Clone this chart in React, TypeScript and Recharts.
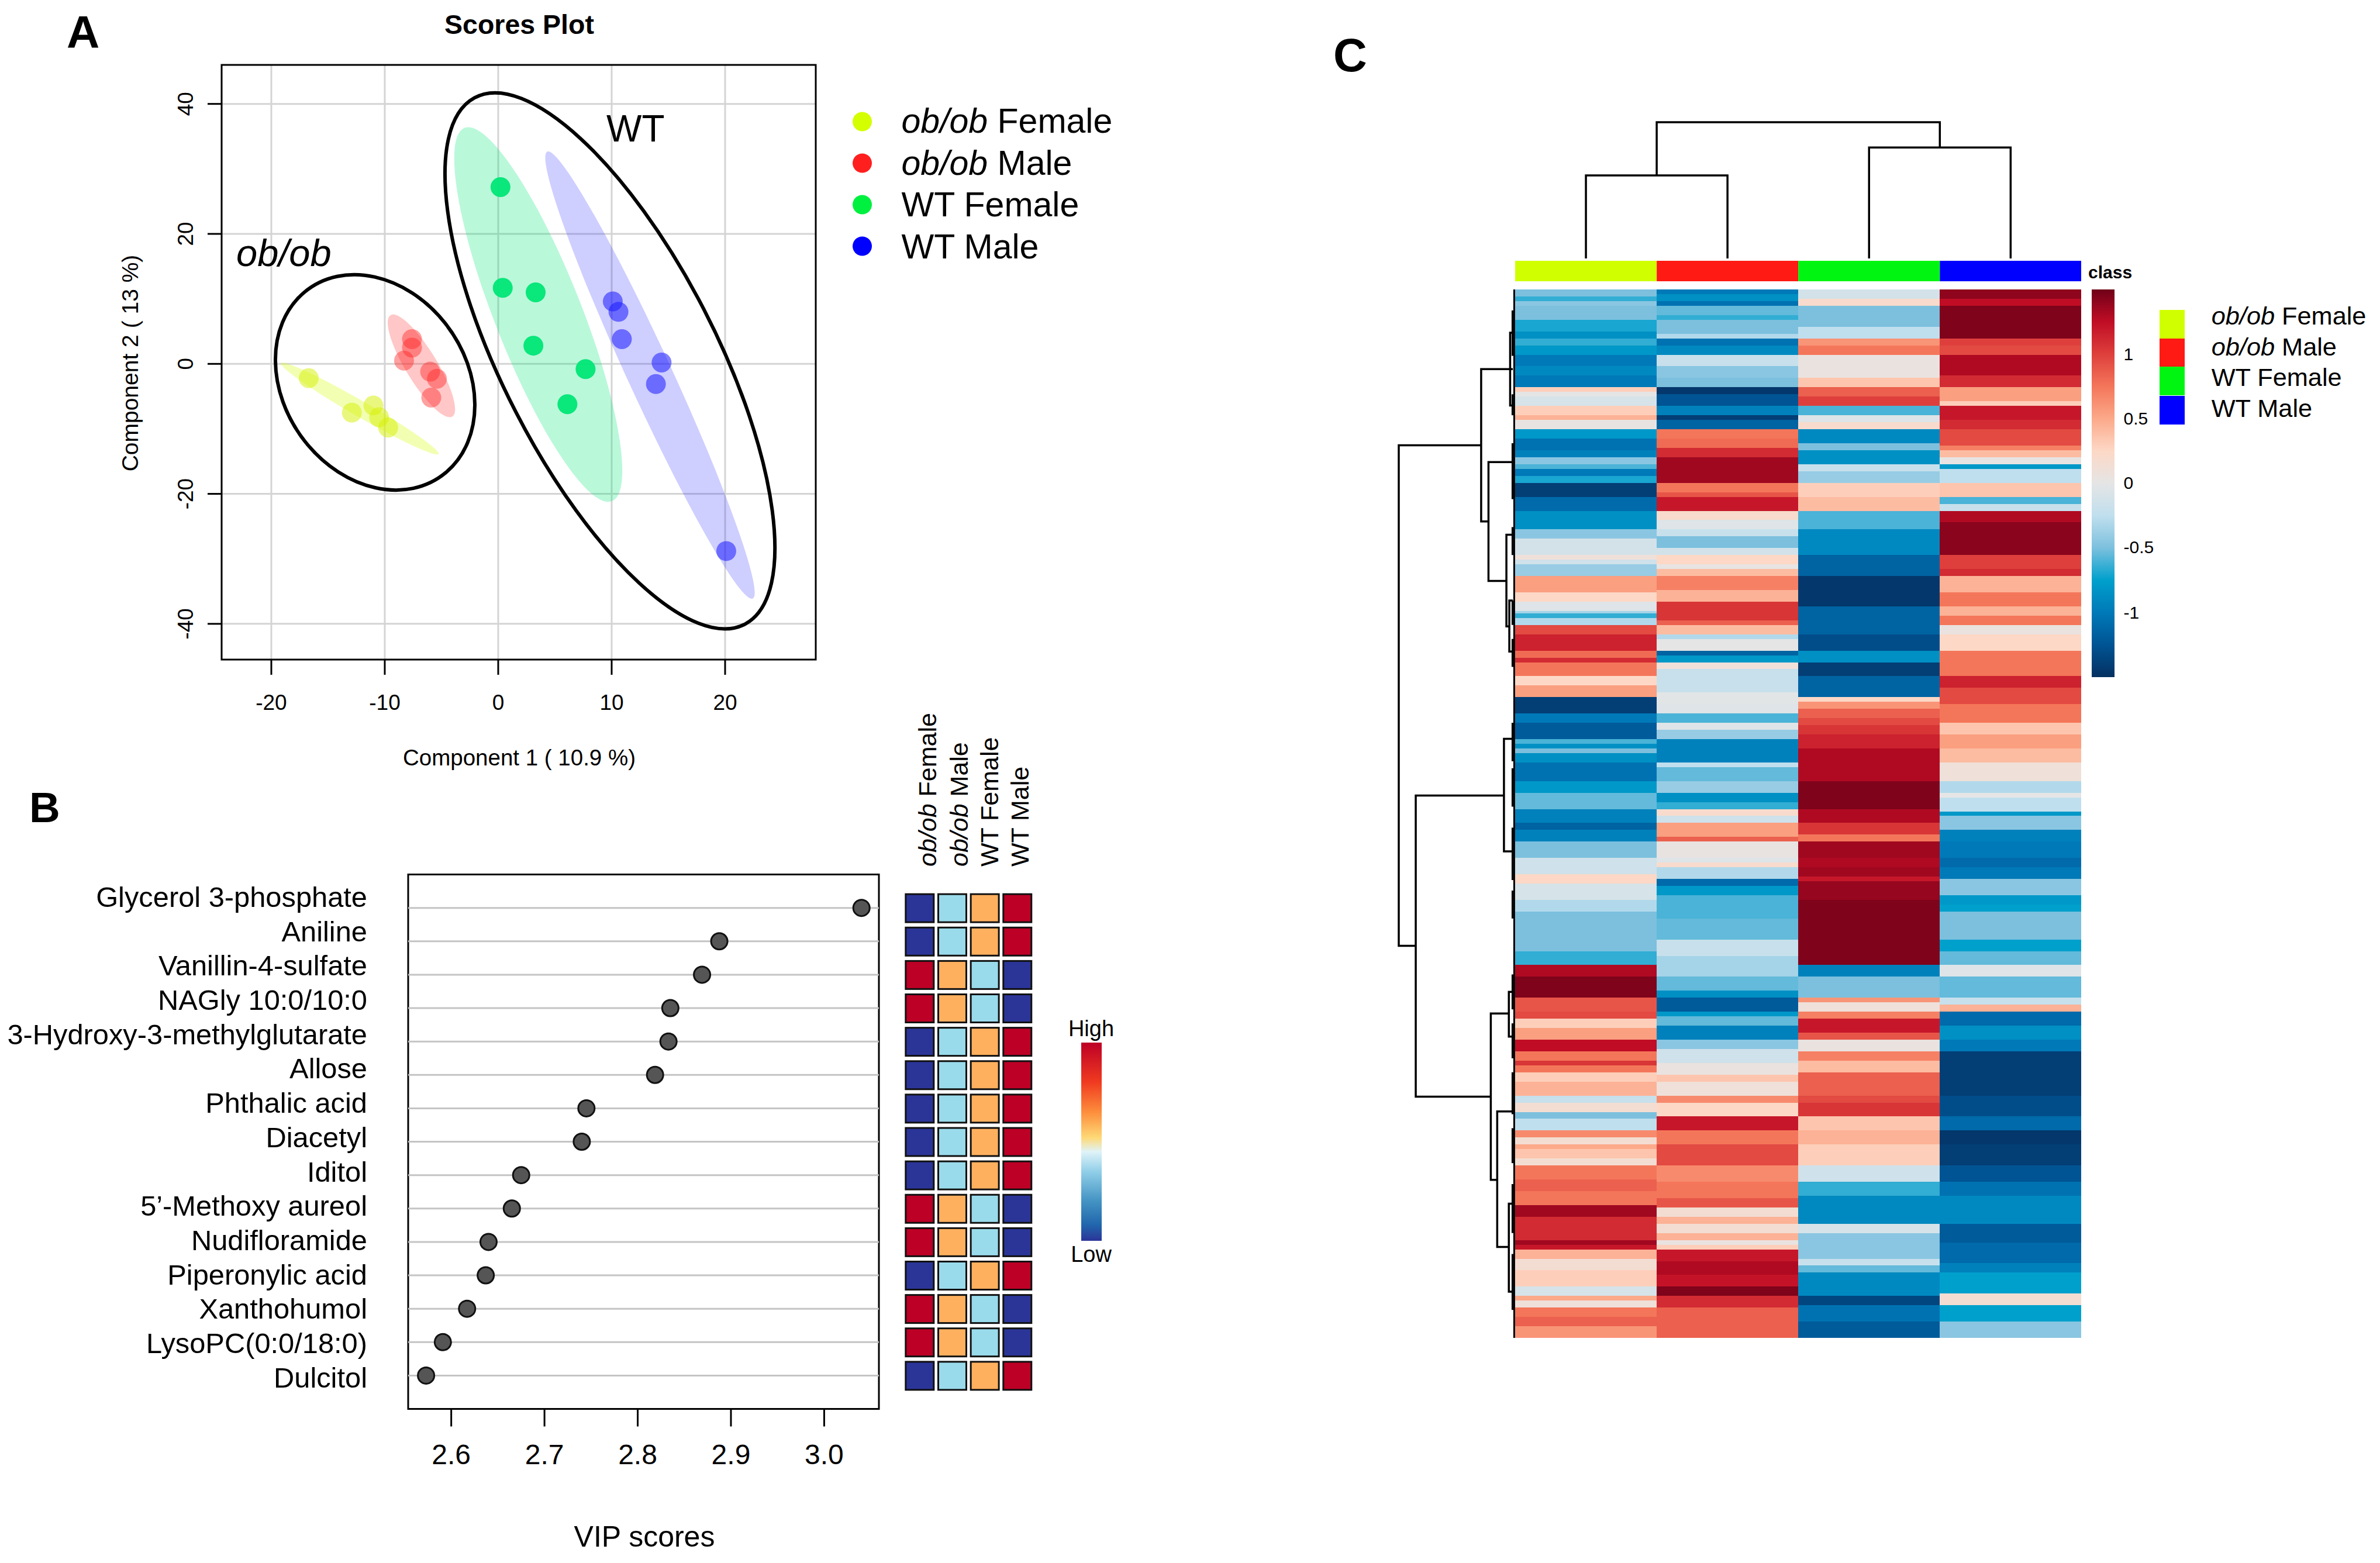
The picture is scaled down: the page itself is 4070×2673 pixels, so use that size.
import { BarChart, Bar, Cell, ScatterChart, Scatter, XAxis, YAxis, CartesianGrid, ReferenceArea, ReferenceLine } from "recharts";

const FONT = "'Liberation Sans', Arial, sans-serif";

// ---- panel A: scores plot ----
const groupNames = ["ob/ob Female", "ob/ob Male", "WT Female", "WT Male"];
const obFemaleScores = [{ x: -16.7, y: -2.2 }, { x: -12.9, y: -7.5 }, { x: -11, y: -6.4 }, { x: -10.5, y: -8.2 }, { x: -9.7, y: -9.8 }];
const obMaleScores = [{ x: -7.6, y: 3.8 }, { x: -7.6, y: 2.5 }, { x: -8.3, y: 0.5 }, { x: -6, y: -1.2 }, { x: -5.4, y: -2.3 }, { x: -5.9, y: -5.2 }];
const wtFemaleScores = [{ x: 0.2, y: 27.2 }, { x: 0.4, y: 11.7 }, { x: 3.3, y: 11 }, { x: 3.1, y: 2.8 }, { x: 7.7, y: -0.8 }, { x: 6.1, y: -6.2 }];
const wtMaleScores = [{ x: 10.1, y: 9.6 }, { x: 10.6, y: 8 }, { x: 10.9, y: 3.8 }, { x: 14.4, y: 0.2 }, { x: 13.9, y: -3.1 }, { x: 20.1, y: -28.8 }];
// centre and two conjugate tips, in data units
const ellipses = [
  { x: -12.2, y: -6.88, ux: -5.26, uy: -13.86, vx: -11.87, vy: -5.81, fill: "#d4ff00", opacity: 0.3 },
  { x: -6.77, y: -0.31, ux: -4.04, uy: -8.1, vx: -5.61, vy: 1.02, fill: "#ff2020", opacity: 0.25 },
  { x: 3.53, y: 7.6, ux: 10.04, uy: -21.1, vx: 7.06, vy: 10.2, fill: "#00e676", opacity: 0.27 },
  { x: 13.38, y: -1.73, ux: 22.44, uy: -36.1, vx: 15.14, vy: -0.22, fill: "#2020ff", opacity: 0.22 },
  { x: -10.85, y: -2.85, ux: -4.6, uy: -16.7, vx: -4.67, vy: 6.24, fill: "none", opacity: 1 },
  { x: 9.85, y: 0.46, ux: 21.8, uy: -40, vx: 18.13, vy: 8.38, fill: "none", opacity: 1 },
];
const scoreTicksX = [-20, -10, 0, 10, 20];
const scoreTicksY = [-40, -20, 0, 20, 40];
const X_DOM: [number, number] = [-24.38, 27.99];
const Y_DOM: [number, number] = [-45.5, 46];
const PX_X = (1395 - 379) / (X_DOM[1] - X_DOM[0]);
const PX_Y = (1128 - 111) / (Y_DOM[1] - Y_DOM[0]);

// ---- panel B: VIP scores ----
const metabolites = ["Glycerol 3-phosphate", "Aniline", "Vanillin-4-sulfate", "NAGly 10:0/10:0", "3-Hydroxy-3-methylglutarate", "Allose", "Phthalic acid", "Diacetyl", "Iditol", "5’-Methoxy aureol", "Nudifloramide", "Piperonylic acid", "Xanthohumol", "LysoPC(0:0/18:0)", "Dulcitol"];
const vipScores = [3.04, 2.8875, 2.869, 2.835, 2.833, 2.8186, 2.745, 2.74, 2.675, 2.665, 2.64, 2.637, 2.617, 2.591, 2.573];
const vipTicks = [2.6, 2.7, 2.8, 2.9, 3.0];
const tileObFemale = [0, 0, 3, 3, 0, 0, 0, 0, 0, 3, 3, 0, 3, 3, 0];
const tileObMale = [1, 1, 2, 2, 1, 1, 1, 1, 1, 2, 2, 1, 2, 2, 1];
const tileWtFemale = [2, 2, 1, 1, 2, 2, 2, 2, 2, 1, 1, 2, 1, 1, 2];
const tileWtMale = [3, 3, 0, 0, 3, 3, 3, 3, 3, 0, 0, 3, 0, 0, 3];
const tileColors = ["#2b3598", "#9adbeb", "#ffb05f", "#bd0026"];

// ---- panel C: heatmap, rows given as [end row, z] runs ----
const heatObFemale = [[1,-.5],[1.7,-.65],[2.5,-.45],[4.5,-.5],[6,-.7],[7,-.85],[8,-.65],[9.4,-.8],[11,-1],[12.5,-.9],[14,-1],[14.8,.3],[15.3,0],[16.7,-.1],[18,.3],[18.7,.45],[20,.03],[21.5,-.8],[23.05,-1.05],[23.9,-.95],[25,-.45],[25.8,-.6],[26.8,-1],[27.8,-.7],[29.7,-1.4],[31.7,-1.1],[34.2,-.85],[35.6,-.45],[38.1,-.12],[38.8,.1],[39.5,-.15],[41,-.4],[43.4,.55],[44.8,.25],[45.9,-.05],[46.5,-.35],[47,-.65],[48,-.3],[49.5,.95],[51.6,1.15],[52.6,.8],[53.5,1.1],[55.3,.75],[56.7,.25],[58.5,.55],[60.7,-1.4],[62.1,-1],[64.3,-1.2],[65,-.6],[65.7,-.85],[66.3,-.5],[67.7,-.85],[70.5,-1.05],[72,-.8],[74.2,-.55],[76.3,-.95],[77.4,-1.15],[79.1,-.95],[81.3,-.5],[83.6,-.15],[85.1,.25],[87.5,-.1],[89,-.3],[94.7,-.5],[96.7,-.65],[98.2,1.3],[101.2,1.45],[103.2,.9],[104.5,.95],[105.8,.3],[107.2,.55],[108.9,1.25],[110.3,.75],[111,1.05],[112.1,.75],[113.5,.3],[115.2,.45],[116.5,-.2],[117.7,.15],[118.8,-.5],[120.3,-.25],[121.4,.65],[122.3,.15],[123,.5],[124.2,.35],[125.4,.15],[127.5,.75],[129,.85],[131,.75],[132.6,1.35],[135.9,1.1],[136.6,1.35],[137.5,1.2],[138.8,.45],[140.5,.15],[142.8,.3],[143.9,-.1],[144.6,.5],[145.7,.1],[147,.75],[148.5,.85],[150,.6]];
const heatObMale = [[.7,-1],[1.7,-.85],[2.5,-1.05],[3.8,-.55],[4.5,-.65],[6.2,-.5],[7,-.3],[8,-1.05],[9.4,-.9],[11,-.2],[12.7,-.45],[14.1,-.5],[15.1,-1.45],[16.7,-1.25],[18,-.95],[18.7,-1.4],[20,-1.15],[21.5,.75],[22.8,.8],[23.9,1.1],[27.8,1.35],[28.9,.75],[29.7,.9],[31.7,1.2],[33.1,.2],[34.2,-.05],[35.5,-.2],[37,-.5],[38,-.12],[39.2,.25],[40.1,.02],[41,.4],[42.9,.7],[44.8,.45],[47.2,1.05],[48,.85],[49.5,.4],[50.1,-.3],[51.6,0],[52.3,-1.15],[53.5,-.8],[54.3,.1],[57.6,-.2],[59.3,-.02],[60.7,-.05],[62,-.6],[63,-.05],[64.3,-.4],[67.7,-.95],[68.5,-.25],[70.5,-.55],[72,-.4],[73.4,-.85],[74.2,-.65],[75.3,.2],[76.5,-.15],[78.3,.55],[79.1,.85],[81.3,.03],[82,-.05],[82.7,.2],[84.5,-.3],[85.4,-1.1],[86.6,-.8],[90,-.6],[92.9,-.55],[95.3,-.2],[98.2,-.35],[100.3,-.55],[101.2,-.85],[103.2,-1.2],[104,-.8],[105.4,-.55],[107.4,-.95],[108.7,-.45],[110.7,-.15],[112.3,.05],[113.4,.35],[115.4,.1],[116.5,.65],[118.4,.25],[120.3,1.2],[122.3,.75],[125.2,.95],[127.7,.65],[129.9,.75],[131.2,.9],[132.8,.15],[133.7,.45],[135,.15],[135.9,.45],[136.6,.05],[137.5,.3],[139,1.2],[141,1.3],[142.8,1.22],[143.9,1.45],[145.7,1.1],[150,.85]];
const heatWtFemale = [[1.5,-.12],[2.5,.2],[5.2,-.5],[7,-.25],[8,.6],[9.4,.75],[12.7,.05],[14.1,.35],[15.4,.85],[16.7,1],[18,-.6],[19.1,-.05],[20,.2],[21.9,-.9],[23.05,-.5],[24.9,-.85],[26,-.2],[27.8,-.4],[29.7,.3],[31.7,.4],[34.2,-.6],[38.1,-.9],[41,-1.15],[45.4,-1.45],[49.5,-1.15],[51.6,-1.3],[53.5,-.85],[55.3,-1.4],[58.3,-1.15],[59,.25],[59.9,.6],[61.3,.85],[62.5,.95],[63.6,1.05],[65.6,1.15],[70.5,1.3],[74.2,1.45],[76.3,1.3],[78,1.05],[79.1,.75],[81.3,1.35],[82.7,1.3],[83.9,1.35],[84.8,1.2],[87.5,1.38],[96.7,1.45],[98.3,-.95],[101.2,-.5],[102.1,.6],[103.2,.1],[104.5,.7],[106.3,1.2],[107.4,.9],[109,.05],[110.3,.7],[112.1,.4],[115.4,.85],[116.5,.95],[118.4,1.05],[120.3,.35],[122.3,.45],[125.4,.3],[127.7,-.15],[129.8,-.65],[133.6,-.9],[135,-.1],[138.6,-.45],[139.7,-.2],[140.8,-.55],[143.9,-.9],[145.3,-1.35],[147.7,-1.05],[150,-1.2]];
const heatWtMale = [[1.5,1.4],[2.5,1.25],[7,1.45],[8,1],[9.4,.95],[12.5,1.3],[14.1,1.1],[15.9,.55],[16.7,.3],[18.7,1.2],[20,1.1],[22.2,.95],[23.05,.7],[23.9,.4],[24.9,.02],[25.8,-.8],[27.8,-.25],[29.7,.35],[30.7,-.6],[31.7,-.2],[33.4,1.3],[38,1.42],[40.1,1],[41,1.1],[43.4,.45],[45.4,.75],[46.8,.45],[48,.75],[49.5,.05],[51.6,.25],[55.3,.75],[57.1,1.15],[59.2,.95],[62.1,.75],[63.6,.35],[65.6,.55],[67.7,.4],[70.5,.1],[71.9,-.3],[72.8,0],[74.8,-.25],[75.3,-.8],[77.4,-.45],[79.1,-.95],[81.3,-1],[82.7,-1.1],[84.5,-1],[86.8,-.45],[88,-.8],[89,-.75],[92.9,-.5],[94.7,-.75],[96.7,-.55],[98.2,-.05],[101.2,-.55],[102.3,-.2],[103.2,.45],[105.4,-1.1],[107.2,-.85],[108.9,-1],[115.2,-1.4],[118.4,-1.3],[120.3,-1.1],[122.3,-1.45],[125.4,-1.4],[127.7,-1.25],[129.8,-1.05],[133.6,-.9],[136.4,-1.2],[139.5,-1.1],[140.8,-.95],[143.7,-.75],[145.3,.15],[147.7,-.75],[150,-.45]];
const classColors = ["#d0ff00", "#ff1a14", "#00f510", "#0000ff"];
const heatScale: [number, string][] = [[1.5, "#6f0018"], [1.25, "#c00d25"], [1, "#de3f3c"], [0.75, "#f4765a"], [0.5, "#fca98a"], [0.25, "#fdd8c6"], [0, "#e5e5e5"], [-0.25, "#c0dfee"], [-0.5, "#7cc0de"], [-0.75, "#00a0cc"], [-1, "#0079b8"], [-1.25, "#005494"], [-1.5, "#053061"]];
const colorbarTicks = ["1", "0.5", "0", "-0.5", "-1"];
const vipLegendStops = ["#bd0026", "#f03b20 20%", "#fd8d3c 35%", "#fed976 48%", "#e0f3f8 55%", "#91cfe8 65%", "#4393c3 80%", "#2166ac 92%", "#2b3598"];

// dendrograms: h = merge height, a/b = the two children as [height, position]
const topLinks = [
  { h: 0.61, a: [0, 0.5], b: [0, 1.5] },
  { h: 0.814, a: [0, 2.5], b: [0, 3.5] },
  { h: 1, a: [0.61, 1], b: [0.814, 3] },
];
const leftLinks = [
  { h: 1, a: [0.292, 22.3], b: [0.854, 93.9] },
  { h: 0.292, a: [0.02, 11.4], b: [0.229, 33.2] },
  { h: 0.043, a: [0.02, 6.2], b: [0.02, 16.6] },
  { h: 0.229, a: [0.02, 24.7], b: [0.075, 41.7] },
  { h: 0.075, a: [0.01, 35.1], b: [0.05, 48.2] },
  { h: 0.05, a: [0.02, 44.5], b: [0.02, 51.8] },
  { h: 0.854, a: [0.096, 72.4], b: [0.209, 115.5] },
  { h: 0.096, a: [0.02, 64.3], b: [0.02, 80.4] },
  { h: 0.209, a: [0.054, 103.6], b: [0.154, 127.4] },
  { h: 0.054, a: [0.02, 100.5], b: [0.02, 106.9] },
  { h: 0.154, a: [0.02, 117.6], b: [0.054, 137] },
  { h: 0.0541, a: [0.02, 130.8], b: [0.02, 143.4] },
];
const leafBrackets = [[3, 9.5], [15, 18], [22, 30], [34, 38], [44.5, 48], [50, 54], [62, 67.5], [68.5, 74], [77, 84.5], [86, 90], [98, 103], [105, 110], [112, 118], [120, 125], [128, 135], [138, 146]];

const ROWS = 450;
const expandRuns = (runs: number[][]) => {
  const out: number[] = [];
  for (let i = 0; i < ROWS; i++) {
    const pos = (i + 0.5) / 3;
    const run = runs.find((r) => r[0] > pos) || runs[runs.length - 1];
    out.push(run[1]);
  }
  return out;
};
const heatColumns = [heatObFemale, heatObMale, heatWtFemale, heatWtMale].map(expandRuns);
const heatRows = heatColumns[0].map((_, i) => ({ row: i, a: 1, b: 1, c: 1, d: 1 }));

const hex = (c: string) => [1, 3, 5].map((i) => parseInt(c.slice(i, i + 2), 16));
const heatColor = (z: number) => {
  for (let i = 0; i < heatScale.length - 1; i++) {
    const [z1, c1] = heatScale[i];
    const [z2, c2] = heatScale[i + 1];
    if (z <= z1 && z >= z2) {
      const t = (z1 - z) / (z1 - z2);
      const [a, b] = [hex(c1), hex(c2)];
      return `rgb(${a.map((v, k) => Math.round(v + (b[k] - v) * t)).join(",")})`;
    }
  }
  return heatScale[0][1];
};

const EllipseShape = (props: any) => {
  const { cx, cy, payload } = props;
  const ux = (payload.ux - payload.x) * PX_X;
  const uy = -(payload.uy - payload.y) * PX_Y;
  const vx = (payload.vx - payload.x) * PX_X;
  const vy = -(payload.vy - payload.y) * PX_Y;
  const k = 0.5523;
  const p = (a: number, b: number) => `${cx + a * ux + b * vx} ${cy + a * uy + b * vy}`;
  const d = `M${p(1, 0)}C${p(1, k)} ${p(k, 1)} ${p(0, 1)}C${p(-k, 1)} ${p(-1, k)} ${p(-1, 0)}C${p(-1, -k)} ${p(-k, -1)} ${p(0, -1)}C${p(k, -1)} ${p(1, -k)} ${p(1, 0)}Z`;
  return payload.fill === "none" ? (
    <path d={d} fill="none" stroke="#000" strokeWidth={6} />
  ) : (
    <path d={d} fill={payload.fill} fillOpacity={payload.opacity} />
  );
};

const RotatedTick = (props: any) => (
  <text x={props.x} y={props.y} transform={`rotate(-90 ${props.x} ${props.y})`} textAnchor="middle" fontSize={37} fill="#000">
    {props.payload.value}
  </text>
);

const Tile = (props: any) => (
  <rect x={props.cx - 24} y={props.cy - 24} width={48} height={48} fill={tileColors[props.payload.level]} stroke="#111" strokeWidth={3} />
);

const NoDot = () => <g />;

const box = (left: number, top: number, width: number, height: number): React.CSSProperties => ({ position: "absolute", left, top, width, height });

const scoreSeries = [
  { data: obFemaleScores, fill: "#d6f000", opacity: 0.5 },
  { data: obMaleScores, fill: "#ff2020", opacity: 0.42 },
  { data: wtFemaleScores, fill: "#00e676", opacity: 0.95 },
  { data: wtMaleScores, fill: "#1a1aff", opacity: 0.55 },
];

function ScoresPlot() {
  return (
    <div style={box(0, 0, 1500, 1340)}>
      <ScatterChart width={1500} height={1340} margin={{ left: 279, top: 111, right: 105, bottom: 112 }}>
        <CartesianGrid stroke="#d4d4d4" strokeWidth={3} verticalValues={scoreTicksX} horizontalValues={scoreTicksY} />
        <XAxis type="number" dataKey="x" domain={X_DOM} ticks={scoreTicksX} allowDataOverflow height={100} tickSize={26} tickMargin={34} axisLine={false} tick={{ fill: "#000", fontSize: 37 }} tickLine={{ stroke: "#000", strokeWidth: 3 }} interval={0} />
        <YAxis type="number" dataKey="y" domain={Y_DOM} ticks={scoreTicksY} allowDataOverflow width={100} tickSize={24} tickMargin={25} axisLine={false} tick={RotatedTick} tickLine={{ stroke: "#000", strokeWidth: 3 }} interval={0} />
        <ReferenceArea x1={X_DOM[0]} x2={X_DOM[1]} y1={Y_DOM[0]} y2={Y_DOM[1]} fill="none" stroke="#000" strokeWidth={3} />
        <Scatter data={ellipses} shape={EllipseShape} isAnimationActive={false} />
        {scoreSeries.map((s, i) => (
          <Scatter key={i} data={s.data} isAnimationActive={false} shape={(p: any) => <circle cx={p.cx} cy={p.cy} r={17} fill={s.fill} fillOpacity={s.opacity} />} />
        ))}
      </ScatterChart>
    </div>
  );
}

function VipPlot() {
  const data = vipScores.map((x, i) => ({ x, y: i + 1 }));
  return (
    <div style={box(0, 1400, 1530, 1273)}>
      <ScatterChart width={1530} height={1273} margin={{ left: 0, top: 95.5, right: 27, bottom: 163.5 }}>
        <XAxis type="number" dataKey="x" domain={[2.5538, 3.0587]} ticks={vipTicks} allowDataOverflow height={100} tickSize={30} tickMargin={30} axisLine={false} tick={{ fill: "#000", fontSize: 48 }} tickLine={{ stroke: "#000", strokeWidth: 3 }} tickFormatter={(v: number) => v.toFixed(1)} interval={0} />
        <YAxis yAxisId="rows" type="number" dataKey="y" domain={[0, 16]} reversed hide />
        <YAxis yAxisId="labels" type="number" dataKey="y" domain={[0.353, 15.92]} reversed ticks={metabolites.map((_, i) => i + 1)} width={698} tickSize={0} tickMargin={70} axisLine={false} tickLine={false} tick={{ fill: "#000", fontSize: 48.8 }} tickFormatter={(v: number) => metabolites[v - 1]} interval={0} />
        {metabolites.map((m, i) => (
          <ReferenceLine key={m} yAxisId="rows" y={i + 1} stroke="#c4c4c4" strokeWidth={3} />
        ))}
        <ReferenceArea yAxisId="rows" x1={2.5538} x2={3.0587} y1={0} y2={16} fill="none" stroke="#000" strokeWidth={3} />
        <Scatter yAxisId="labels" data={data} shape={NoDot} isAnimationActive={false} />
        <Scatter yAxisId="rows" data={data} isAnimationActive={false} shape={(p: any) => <circle cx={p.cx} cy={p.cy} r={14} fill="#555" stroke="#111" strokeWidth={3} />} />
      </ScatterChart>
    </div>
  );
}

function VipTiles() {
  const columns = [tileObFemale, tileObMale, tileWtFemale, tileWtMale];
  return (
    <div style={box(1545.2, 1495.5, 222.6, 914)}>
      <ScatterChart width={222.6} height={914} margin={{ left: 0, top: 0, right: 0, bottom: 0 }}>
        <XAxis type="number" dataKey="x" domain={[0, 4]} hide />
        <YAxis type="number" dataKey="y" domain={[0, 16]} reversed hide />
        {columns.map((col, c) => (
          <Scatter key={c} data={col.map((level, i) => ({ x: c + 0.5, y: i + 1, level }))} shape={Tile} isAnimationActive={false} />
        ))}
      </ScatterChart>
    </div>
  );
}

const linkPoints = (l: { h: number; a: number[]; b: number[] }) => [
  { h: l.a[0], p: l.a[1] },
  { h: l.h, p: l.a[1] },
  { h: l.h, p: l.b[1] },
  { h: l.b[0], p: l.b[1] },
];

function TopDendrogram() {
  return (
    <div style={box(2590.5, 199.4, 968.4, 253.1)}>
      <ScatterChart width={968.4} height={253.1} margin={{ left: 0, top: 10, right: 0, bottom: 10 }}>
        <XAxis type="number" dataKey="p" domain={[0, 4]} hide />
        <YAxis type="number" dataKey="h" domain={[0, 1]} hide />
        {topLinks.map((l, i) => (
          <Scatter key={i} data={linkPoints(l)} line={{ stroke: "#000", strokeWidth: 3.5 }} shape={NoDot} isAnimationActive={false} />
        ))}
      </ScatterChart>
    </div>
  );
}

function LeftDendrogram() {
  return (
    <div style={box(2381.5, 484.5, 209, 1813)}>
      <ScatterChart width={209} height={1813} margin={{ left: 10, top: 10, right: 0, bottom: 10 }}>
        <XAxis type="number" dataKey="h" domain={[0, 1]} reversed hide />
        <YAxis type="number" dataKey="p" domain={[0, 150]} reversed hide />
        {leftLinks.map((l, i) => (
          <Scatter key={i} data={linkPoints(l)} line={{ stroke: "#000", strokeWidth: 3.5 }} shape={NoDot} isAnimationActive={false} />
        ))}
        {leafBrackets.map((b, i) => (
          <Scatter key={`b${i}`} data={[{ h: 0.023, p: b[0] }, { h: 0.023, p: b[1] }]} line={{ stroke: "#000", strokeWidth: 3 }} shape={NoDot} isAnimationActive={false} />
        ))}
        <Scatter data={[{ h: 0.008, p: 0 }, { h: 0.008, p: 150 }]} line={{ stroke: "#000", strokeWidth: 3 }} shape={NoDot} isAnimationActive={false} />
      </ScatterChart>
    </div>
  );
}

function ClassBar() {
  return (
    <div style={box(2590.5, 445.5, 968.4, 35.5)}>
      <BarChart layout="vertical" width={968.4} height={35.5} data={[{ name: "class", a: 1, b: 1, c: 1, d: 1 }]} barCategoryGap={0} margin={{ left: 0, top: 0, right: 0, bottom: 0 }}>
        <XAxis type="number" domain={[0, 4]} hide />
        <YAxis type="category" dataKey="name" hide />
        {["a", "b", "c", "d"].map((k, i) => (
          <Bar key={k} dataKey={k} stackId="c" fill={classColors[i]} isAnimationActive={false} />
        ))}
      </BarChart>
    </div>
  );
}

function Heatmap() {
  return (
    <div style={box(2590.5, 494.5, 968.4, 1793)}>
      <BarChart layout="vertical" width={968.4} height={1793} data={heatRows} barCategoryGap={0} margin={{ left: 0, top: 0, right: 0, bottom: 0 }}>
        <XAxis type="number" domain={[0, 4]} hide />
        <YAxis type="category" dataKey="row" hide />
        {["a", "b", "c", "d"].map((k, c) => (
          <Bar key={k} dataKey={k} stackId="h" isAnimationActive={false} shapeRendering="crispEdges">
            {heatColumns[c].map((z, i) => (
              <Cell key={i} fill={heatColor(z)} />
            ))}
          </Bar>
        ))}
      </BarChart>
    </div>
  );
}

const GroupName = ({ name }: { name: string }) =>
  name.startsWith("ob/ob") ? (
    <>
      <tspan fontStyle="italic">ob/ob</tspan>
      {name.slice(5)}
    </>
  ) : (
    <>{name}</>
  );

function Annotations() {
  const legendDots = ["#d4ff00", "#ff1f1f", "#00f040", "#0000ff"];
  const legendY = [226.7, 299.3, 370, 441.7];
  const dotY = [208, 279, 350, 421];
  const tileX = [1601, 1655, 1706.6, 1759];
  const classY = [555.3, 607.6, 660, 712.5];
  const squareY = [530, 579, 627, 677];
  const tickY = [605, 714.5, 825, 935.4, 1046.9];
  return (
    <svg width={4070} height={2673} style={{ position: "absolute", left: 0, top: 0, pointerEvents: "none" }} fontFamily={FONT}>
      <text x={114} y={82} fontSize={78} fontWeight="bold">A</text>
      <text x={50} y={1406} fontSize={73} fontWeight="bold">B</text>
      <text x={2280} y={122} fontSize={80} fontWeight="bold">C</text>
      <text x={888} y={58} fontSize={46.5} fontWeight="bold" textAnchor="middle">Scores Plot</text>
      <text x={888} y={1309} fontSize={38.5} textAnchor="middle">Component 1 ( 10.9 %)</text>
      <text x={236} y={621} fontSize={39} textAnchor="middle" transform="rotate(-90 236 621)">Component 2 ( 13 %)</text>
      <text x={404} y={455} fontSize={65} fontStyle="italic">ob/ob</text>
      <text x={1037} y={242} fontSize={64}>WT</text>
      {groupNames.map((n, i) => (
        <g key={n}>
          <circle cx={1474.5} cy={dotY[i]} r={16.5} fill={legendDots[i]} />
          <text x={1541.5} y={legendY[i]} fontSize={59}><GroupName name={n} /></text>
          <text x={tileX[i]} y={1482} fontSize={43} transform={`rotate(-90 ${tileX[i]} 1482)`}><GroupName name={n} /></text>
          <rect x={3693} y={squareY[i]} width={43} height={49} fill={classColors[i]} />
          <text x={3781.7} y={classY[i]} fontSize={43.3}><GroupName name={n} /></text>
        </g>
      ))}
      <text x={1102} y={2645} fontSize={50} textAnchor="middle">VIP scores</text>
      <text x={1866} y={1772} fontSize={38} textAnchor="middle">High</text>
      <text x={1866} y={2158} fontSize={38} textAnchor="middle">Low</text>
      <text x={3571} y={476} fontSize={30} fontWeight="bold">class</text>
      {colorbarTicks.map((t, i) => (
        <text key={t} x={3631.6} y={tickY[i] + 11} fontSize={30}>{t}</text>
      ))}
    </svg>
  );
}

export default function App() {
  return (
    <div style={{ position: "absolute", left: 0, top: 0, width: 4070, height: 2673, background: "#fff", fontFamily: FONT, overflow: "hidden" }}>
      <ScoresPlot />
      <VipPlot />
      <VipTiles />
      <div style={{ ...box(1849, 1783, 35, 339), background: `linear-gradient(to bottom, ${vipLegendStops.join(",")})` }} />
      <TopDendrogram />
      <LeftDendrogram />
      <ClassBar />
      <Heatmap />
      <div style={{ ...box(3577.4, 494.6, 39, 663.2), background: `linear-gradient(to bottom, ${heatScale.map((s) => s[1]).join(",")})` }} />
      <Annotations />
    </div>
  );
}
